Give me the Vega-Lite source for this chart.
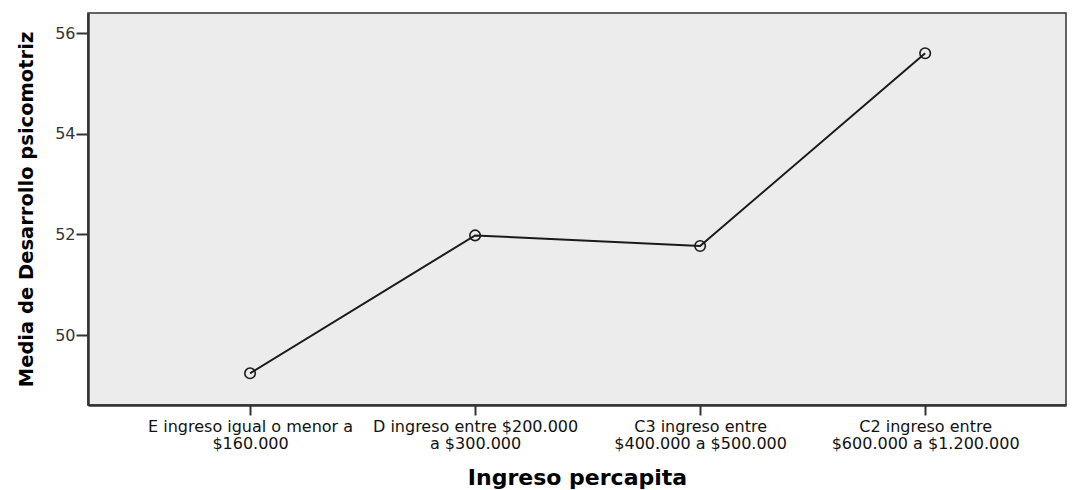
{
  "$schema": "https://vega.github.io/schema/vega-lite/v6.json",
  "autosize": {"type": "none"},
  "width": 978,
  "height": 392,
  "padding": {"left": 88, "top": 13, "right": 13, "bottom": 85},
  "background": "white",
  "data": {
    "values": [
      {"ingreso": "E ingreso igual o menor a\n$160.000", "media": 49.24},
      {"ingreso": "D ingreso entre $200.000\na $300.000", "media": 51.98},
      {"ingreso": "C3 ingreso entre\n$400.000 a $500.000", "media": 51.77},
      {"ingreso": "C2 ingreso entre\n$600.000 a $1.200.000", "media": 55.6}
    ]
  },
  "config": {
    "view": {"fill": "#ececec", "stroke": "#333333", "strokeWidth": 1.5},
    "font": "DejaVu Sans"
  },
  "encoding": {
    "x": {
      "field": "ingreso",
      "type": "ordinal",
      "sort": null,
      "scale": {"type": "point", "padding": 0.673, "align": 0.535},
      "axis": {
        "title": "Ingreso percapita",
        "titleFont": "DejaVu Sans",
        "titleFontSize": 22,
        "titleFontWeight": "bold",
        "titleColor": "#000000",
        "titlePadding": 16,
        "labelExpr": "split(datum.value, '\\n')",
        "labelAngle": 0,
        "labelFontSize": 16,
        "labelColor": "#111111",
        "labelLineHeight": 17,
        "labelPadding": 3,
        "labelLimit": 0,
        "labelOverlap": false,
        "labelBound": false,
        "domainColor": "#333333",
        "domainWidth": 2.5,
        "tickColor": "#333333",
        "tickWidth": 2,
        "tickSize": 10,
        "grid": false
      }
    },
    "y": {
      "field": "media",
      "type": "quantitative",
      "scale": {"domain": [48.61, 56.4], "nice": false, "zero": false},
      "axis": {
        "title": "Media de Desarrollo psicomotriz",
        "titleFont": "DejaVu Sans",
        "titleFontSize": 19.5,
        "titleFontWeight": "bold",
        "titleColor": "#000000",
        "titlePadding": 18,
        "values": [50, 52, 54, 56],
        "labelFontSize": 16,
        "labelColor": "#333333",
        "labelPadding": 1,
        "domainColor": "#333333",
        "domainWidth": 2.5,
        "tickColor": "#333333",
        "tickWidth": 2,
        "tickSize": 12,
        "grid": false
      }
    }
  },
  "layer": [
    {"mark": {"type": "line", "color": "#1a1a1a", "strokeWidth": 2}},
    {"mark": {"type": "point", "shape": "circle", "filled": false, "size": 110, "stroke": "#1a1a1a", "strokeWidth": 1.6, "opacity": 1}}
  ]
}
